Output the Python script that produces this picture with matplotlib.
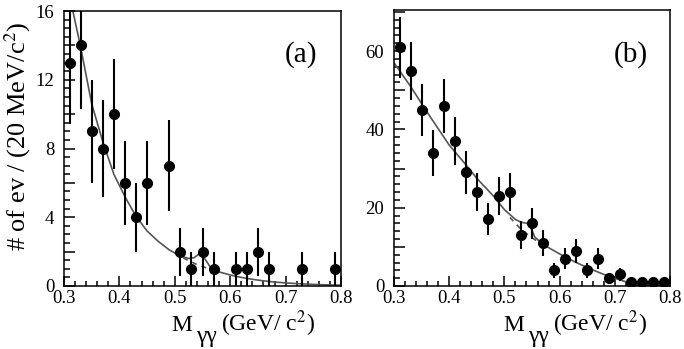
import numpy as np
import matplotlib
matplotlib.use('Agg')
import matplotlib.pyplot as plt
from matplotlib.ticker import MultipleLocator, FuncFormatter
from matplotlib.transforms import IdentityTransform

plt.rcParams['font.family'] = ['Liberation Serif', 'DejaVu Serif']
plt.rcParams['mathtext.fontset'] = 'stix'

# panel (a): measured counts per 20 MeV bin
mass_a = [0.31, 0.33, 0.35, 0.37, 0.39, 0.41, 0.43, 0.45, 0.49, 0.51,
          0.53, 0.55, 0.57, 0.61, 0.63, 0.65, 0.67, 0.73, 0.79]
count_a = [13, 14, 9, 8, 10, 6, 4, 6, 7, 2, 1, 2, 1, 1, 1, 2, 1, 1, 1]
err_a = [3.6, 3.7, 3.0, 2.8, 3.2, 2.45, 2.0, 2.45, 2.65, 1.4,
         1.0, 1.4, 1.0, 1.0, 1.0, 1.4, 1.0, 1.0, 1.0]

# panel (a): fit curve (total) and background
fit_x_a = [0.316, 0.33, 0.35, 0.37, 0.39, 0.41, 0.43, 0.45, 0.47, 0.49, 0.51,
           0.525, 0.535, 0.545, 0.555, 0.565, 0.58, 0.60, 0.62, 0.64, 0.66,
           0.68, 0.70, 0.72, 0.74, 0.76, 0.78, 0.80]
fit_y_a = [16.0, 13.9, 10.6, 8.4, 6.5, 5.2, 4.05, 3.2, 2.6, 2.1, 1.75,
           1.6, 1.65, 1.9, 1.55, 1.05, 0.82, 0.64, 0.5, 0.39, 0.3,
           0.23, 0.18, 0.14, 0.11, 0.08, 0.06, 0.05]
bkg_x_a = [0.50, 0.52, 0.54, 0.56, 0.575]
bkg_y_a = [1.95, 1.55, 1.25, 1.02, 0.88]

# panel (b)
mass_b = [0.31, 0.33, 0.35, 0.37, 0.39, 0.41, 0.43, 0.45, 0.47, 0.49, 0.51,
          0.53, 0.55, 0.57, 0.59, 0.61, 0.63, 0.65, 0.67, 0.69, 0.71,
          0.73, 0.75, 0.77, 0.79]
count_b = [61, 55, 45, 34, 46, 37, 29, 24, 17, 23, 24, 13, 16, 11, 4, 7,
           9, 4, 7, 2, 3, 1, 1, 1, 1]
err_b = [7.8, 7.4, 6.7, 5.8, 6.8, 6.1, 5.4, 4.9, 4.1, 4.8, 4.9, 3.6, 4.0,
         3.3, 2.0, 2.6, 3.0, 2.0, 2.6, 1.4, 1.7, 1.0, 1.0, 1.0, 1.0]

fit_x_b = [0.30, 0.33, 0.36, 0.40, 0.43, 0.45, 0.48, 0.50, 0.52, 0.53,
           0.545, 0.555, 0.57, 0.60, 0.63, 0.66, 0.69, 0.72, 0.75, 0.78, 0.80]
fit_y_b = [57.0, 51.0, 44.4, 36.0, 31.0, 27.5, 23.0, 19.5, 17.0, 16.3,
           15.9, 12.5, 10.6, 8.2, 6.0, 4.1, 2.4, 1.1, 0.5, 0.3, 0.2]
bkg_x_b = [0.51, 0.53, 0.55, 0.57]
bkg_y_b = [17.5, 14.5, 12.3, 10.5]

W, H = 684, 349
fig = plt.figure(figsize=(W / 100, H / 100), dpi=100)
renderer = fig.canvas.get_renderer()


def make_axes(left, right, top, bottom):
    return fig.add_axes([left / W, 1 - bottom / H, (right - left) / W, (bottom - top) / H])


ax_a = make_axes(64, 341, 11, 286)
ax_b = make_axes(394, 670, 10, 286)

panels = [
    (ax_a, mass_a, count_a, err_a, fit_x_a, fit_y_a, bkg_x_a, bkg_y_a, 16, 2, 0.5, 4, '(a)', 0.906),
    (ax_b, mass_b, count_b, err_b, fit_x_b, fit_y_b, bkg_x_b, bkg_y_b, 70.5, 10, 2, 20, '(b)', 0.917),
]

for ax, mx, cy, ey, fx, fy, bx, by, ytop, ymaj, ymin, ylab, tag, xl in panels:
    ax.plot(fx, fy, color='#555555', lw=1.2, zorder=2)
    ax.plot(bx, by, color='#555555', lw=1.2, ls=(0, (3, 3)), zorder=2)
    ax.errorbar(mx, cy, yerr=ey, fmt='o', color='black', ms=7,
                elinewidth=1.5, capsize=0, zorder=3)

    ax.set_xlim(0.3, 0.8)
    ax.set_ylim(0, ytop)
    ax.xaxis.set_major_locator(MultipleLocator(0.1))
    ax.xaxis.set_minor_locator(MultipleLocator(0.02))
    ax.yaxis.set_major_locator(MultipleLocator(ymaj))
    ax.yaxis.set_minor_locator(MultipleLocator(ymin))
    ax.yaxis.set_major_formatter(FuncFormatter(
        lambda v, p, s=ylab: f'{v:g}' if abs(v / s - round(v / s)) < 1e-6 else ''))
    ax.xaxis.set_major_formatter(FuncFormatter(lambda v, p: f'{v:.1f}'))
    ax.tick_params(which='both', direction='in', top=False, right=False,
                   labelsize=13.5, width=1.1)
    ax.tick_params(axis='x', which='major', length=7, pad=3)
    ax.tick_params(axis='x', which='minor', length=3.5)
    ax.tick_params(axis='y', which='major', length=8, pad=7)
    ax.tick_params(axis='y', which='minor', length=4)
    for sp in ax.spines.values():
        sp.set_linewidth(1.1)

    ax.text(0.857, 0.84, tag, transform=ax.transAxes, fontsize=21,
            ha='center', va='center')

    # x label: "M", lowered "γγ", then "(GeV/ c²)"
    x_px, y_px = ax.transAxes.transform((xl, -0.164))
    t_unit = ax.text(x_px, y_px, r'(GeV/ c$^2$)', transform=IdentityTransform(),
                     fontsize=17, ha='right', va='baseline')
    x0 = t_unit.get_window_extent(renderer).x0
    t_gam = ax.text(x0 - 4, y_px - 11, 'γγ', transform=IdentityTransform(),
                    fontsize=17, ha='right', va='baseline')
    x0 = t_gam.get_window_extent(renderer).x0
    ax.text(x0 - 4, y_px, 'M', transform=IdentityTransform(),
            fontsize=17, ha='right', va='baseline')

fig.text(18 / W, 1 - 136 / H, r'# of ev / (20 MeV/c$^2$)', rotation=90,
         fontsize=19, ha='center', va='center')

fig.savefig('out.png', dpi=100)
